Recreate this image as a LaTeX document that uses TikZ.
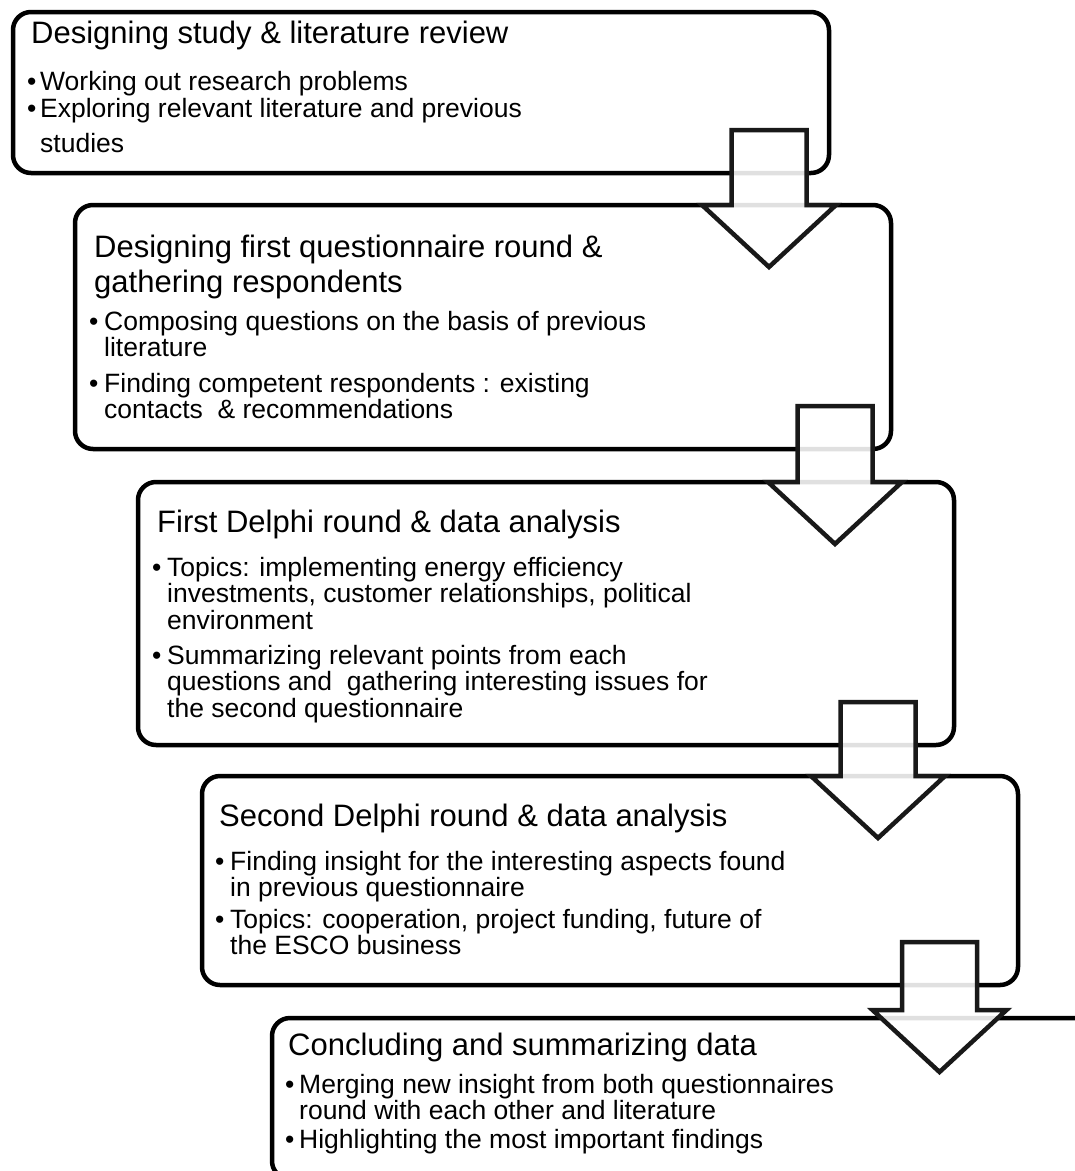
\documentclass[tikz,border=0pt]{standalone}
\usepackage{fontspec}
\setmainfont{Liberation Sans}
\usetikzlibrary{calc}

% stacked lines whose baseline is the baseline of the first line
\newcommand\lines[1]{\vtop{\halign{##\hfil\cr#1\crcr}}}

% block arrow from one stage box down into the next one
% #1 upper box, #2 lower box, #3 centre x, #4 lift of the arrow base above the lower box
\newcommand\stagearrow[4]{%
  \draw[flow] let \p1=(#1.south), \p2=(#2.north) in
    ({#3pt-37.5pt},{\y1+43pt}) -- ({#3pt+37.5pt},{\y1+43pt})
    -- ({#3pt+37.5pt},{\y2+#4pt}) -- ({#3pt+67pt},{\y2+#4pt})
    -- (#3pt,{\y2+#4pt-62pt})
    -- ({#3pt-67pt},{\y2+#4pt}) -- ({#3pt-37.5pt},{\y2+#4pt}) -- cycle;
}

\begin{document}
\begin{tikzpicture}[x=1pt,y=-1pt,
  stage/.style={draw=black, line width=4.5pt, rounded corners=18pt, fill=white,
    anchor=north west, minimum width=816pt, inner sep=0pt, outer sep=0pt},
  head/.style={anchor=base west, inner sep=0pt, font=\fontsize{31}{35}\selectfont},
  item/.style={anchor=base west, inner sep=0pt, font=\fontsize{26.5}{26.5}\selectfont},
  dot/.style={anchor=base west, inner sep=0pt, font=\fontsize{26.5}{26.5}\selectfont},
  flow/.style={draw=black!90, line width=4.5pt, fill=white, fill opacity=0.88, line join=miter}]

\useasboundingbox (0,0) rectangle (1075,1171);
\clip (0,0) rectangle (1075,1171);

% stage boxes
\node[stage, minimum height=161pt] (s1) at (13,12) {};
\node[stage, minimum height=244pt] (s2) at (75,205) {};
\node[stage, minimum height=263pt] (s3) at (138,482) {};
\node[stage, minimum height=209pt] (s4) at (202,776) {};
\node[stage, minimum height=161pt, minimum width=900pt] (s5) at (272,1018) {};

% stage 1
\node[head] (t1) at (31,43) {Designing study \& literature review};
\node[dot] (d1a) at (27,90) {\textbullet};
\node[item] (b1a) at (40,90) {Working out research problems};
\node[dot] (d1b) at (27,117) {\textbullet};
\node[item] (b1b) at (40,117) {\lines{Exploring relevant literature and previous\cr\noalign{\vskip8.5pt}studies}};

% stage 2
\node[head] (t2) at (94,257) {\lines{Designing first questionnaire round \&\cr gathering respondents}};
\node[dot] (d2a) at (89,330) {\textbullet};
\node[item] (b2a) at (104,330) {\lines{Composing questions on the basis of previous\cr literature}};
\node[dot] (d2b) at (89,392) {\textbullet};
\node[item] (b2b) at (104,392) {\lines{Finding competent respondents : existing\cr contacts~ \& recommendations}};

% stage 3
\node[head] (t3) at (157,532) {First Delphi round \& data analysis};
\node[dot] (d3a) at (152,576) {\textbullet};
\node[item] (b3a) at (167,576) {\lines{Topics: implementing energy efficiency\cr investments, customer relationships, political\cr environment}};
\node[dot] (d3b) at (152,664) {\textbullet};
\node[item] (b3b) at (167,664) {\lines{Summarizing relevant points from each\cr questions and~ gathering interesting issues for\cr the second questionnaire}};

% stage 4
\node[head] (t4) at (219,826) {Second Delphi round \& data analysis};
\node[dot] (d4a) at (215,870) {\textbullet};
\node[item] (b4a) at (230,870) {\lines{Finding insight for the interesting aspects found\cr in previous questionnaire}};
\node[dot] (d4b) at (215,928) {\textbullet};
\node[item] (b4b) at (230,928) {\lines{Topics: cooperation, project funding, future of\cr the ESCO business}};

% stage 5
\node[head] (t5) at (288,1055) {Concluding and summarizing data};
\node[dot] (d5a) at (285,1093) {\textbullet};
\node[item] (b5a) at (299,1093) {\lines{Merging new insight from both questionnaires\cr round with each other and literature}};
\node[dot] (d5b) at (285,1148) {\textbullet};
\node[item] (b5b) at (299,1148) {Highlighting the most important findings};

% arrows between the stages
\stagearrow{s1}{s2}{769}{0}
\stagearrow{s2}{s3}{835}{0}
\stagearrow{s3}{s4}{878}{0}
\stagearrow{s4}{s5}{939.5}{8}
\end{tikzpicture}
\end{document}
